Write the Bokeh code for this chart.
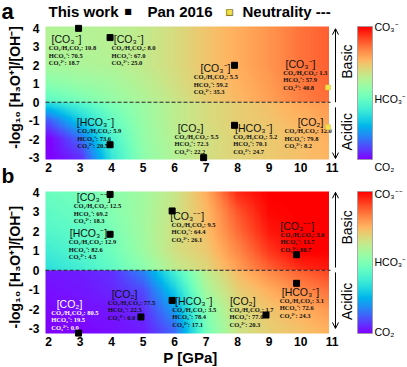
import numpy as np
from bokeh.plotting import figure
from bokeh.layouts import column
from bokeh.models import ColumnDataSource, LinearColorMapper, Label, Arrow, OpenHead
from bokeh.core.properties import value
from bokeh.embed import file_html
from bokeh.resources import INLINE

# ---------------- data ----------------
# panel a : this work
a_P = [2.95, 3.95, 7.9, 3.95, 6.92, 7.9]
a_pH = [4.0, 3.5, 2.0, -2.3, -3.0, -1.25]
a_species = ["CO3", "CO3", "CO3", "HCO3", "CO2", "HCO3"]
a_co2 = [10.8, 8.0, 5.5, 5.9, 5.5, 5.2]
a_hco3 = [70.5, 67.0, 59.2, 73.6, 72.3, 70.1]
a_co3 = [18.7, 25.0, 35.3, 20.5, 22.2, 24.7]
# panel a : Pan 2016
pan_P = [10.87, 10.87]
pan_pH = [0.8, -1.35]
pan_species = ["CO3", "CO2"]
pan_co2 = [1.3, 12.0]
pan_hco3 = [57.9, 79.8]
pan_co3 = [40.8, 8.2]
# panel b : this work
b_P = [3.95, 3.95, 5.92, 9.87, 9.87, 8.9, 5.92, 4.93, 2.95]
b_pH = [3.9, 1.85, 3.05, 0.8, -0.67, -2.3, -1.55, -2.4, -3.23]
b_species = ["CO3", "HCO3", "CO3", "CO3", "HCO3", "CO2", "HCO3", "CO2", "CO2"]
b_co2 = [12.5, 12.9, 9.5, 5.6, 3.1, 1.7, 3.5, 77.5, 80.5]
b_hco3 = [69.2, 82.6, 64.4, 13.7, 72.6, 77.0, 78.4, 22.5, 19.5]
b_co3 = [18.3, 4.5, 26.1, 80.7, 24.3, 20.3, 17.1, 0.0, 0.0]
neutral_pH = 0.0

x_ticks = [2, 3, 4, 5, 6, 7, 8, 9, 10, 11]
y_ticks = [-3, -2, -1, 0, 1, 2, 3, 4]

# background field (0 = CO2, 0.5 = HCO3-, 1 = CO3--) read on a coarse grid
field_x = [2, 3, 4, 5, 6, 7, 8, 9, 10, 11]
up_y = [4, 3, 2, 1, 0]
lo_y = [0, -1, -2, -3]
a_up = [
    [0.60, 0.60, 0.61, 0.63, 0.67, 0.72, 0.76, 0.80, 0.85, 0.88],
    [0.60, 0.60, 0.61, 0.63, 0.67, 0.72, 0.76, 0.80, 0.85, 0.88],
    [0.58, 0.59, 0.60, 0.63, 0.67, 0.72, 0.76, 0.80, 0.85, 0.88],
    [0.52, 0.55, 0.57, 0.61, 0.66, 0.71, 0.75, 0.79, 0.84, 0.87],
    [0.43, 0.48, 0.54, 0.59, 0.64, 0.70, 0.74, 0.78, 0.83, 0.86],
]
a_lo = [
    [0.34, 0.42, 0.50, 0.56, 0.62, 0.67, 0.70, 0.73, 0.77, 0.80],
    [0.12, 0.30, 0.45, 0.55, 0.62, 0.67, 0.70, 0.72, 0.75, 0.78],
    [0.00, 0.14, 0.40, 0.54, 0.61, 0.66, 0.69, 0.71, 0.73, 0.76],
    [0.00, 0.06, 0.36, 0.53, 0.60, 0.66, 0.69, 0.71, 0.73, 0.75],
]
b_up = [
    [0.46, 0.48, 0.52, 0.57, 0.64, 0.76, 0.95, 1.00, 1.00, 1.00],
    [0.44, 0.46, 0.51, 0.57, 0.65, 0.74, 0.89, 0.99, 1.00, 1.00],
    [0.42, 0.44, 0.49, 0.57, 0.66, 0.73, 0.86, 0.97, 1.00, 1.00],
    [0.38, 0.42, 0.47, 0.56, 0.66, 0.71, 0.82, 0.93, 1.00, 1.00],
    [0.34, 0.38, 0.44, 0.52, 0.62, 0.68, 0.78, 0.87, 0.94, 0.97],
]
b_lo = [
    [0.03, 0.04, 0.06, 0.18, 0.40, 0.62, 0.74, 0.82, 0.88, 0.92],
    [0.02, 0.03, 0.05, 0.10, 0.30, 0.58, 0.70, 0.76, 0.82, 0.86],
    [0.01, 0.02, 0.03, 0.06, 0.22, 0.52, 0.67, 0.72, 0.76, 0.80],
    [0.00, 0.01, 0.02, 0.04, 0.14, 0.48, 0.65, 0.70, 0.73, 0.76],
]

# ---------------- layout (text positions, data coordinates) ----------------
a_lab_x = [2.567, 4.544, 7.297, 3.487, 6.503, 8.513]
a_line_x = [2.005, 3.995, 6.608, 2.906, 5.995, 7.859]
a_lab_y = [3.407, 3.407, 1.842, -1.081, -1.385, -1.385]
pan_lab_x = [9.995, 10.313]
pan_line_x = [9.446, 9.487]
pan_lab_y = [2.081, -1.081]
b_lab_x = [3.433, 3.265, 6.398, 9.89, 9.995, 8.163, 6.608, 4.408, 2.662]
b_line_x = [2.798, 2.640, 5.9, 9.36, 9.338, 7.741, 5.922, 3.878, 2.081]
b_lab_y = [3.757, 1.906, 2.816, 2.302, -1.091, -1.554, -1.554, -1.21, -1.724]
b_txt_col = ["#111111"] * 8 + ["white"]

W = 407
LEFT = 45            # px left of the plotting region
X0 = 1.9             # data x at the region's left edge
PPX = 31.5           # px per GPa
XA = X0 - LEFT / PPX
XB = X0 + (W - LEFT) / PPX
IMG_X1 = 10.9
FONT = "Liberation Sans"


def rainbow(n=256):
    out = []
    for i in range(n):
        t = i / (n - 1)
        r = min(1.0, abs(2 * t - 0.5))
        g = max(0.0, np.sin(np.pi * t))
        b = max(0.0, np.cos(np.pi * t / 2))
        out.append("#%02x%02x%02x" % (int(round(r * 255)), int(round(g * 255)), int(round(b * 255))))
    return out


mapper = LinearColorMapper(palette=rainbow(), low=0, high=1)


def upsample(grid, ys, y0, y1, nx=240, ny=120):
    g = np.array(grid, dtype=float)
    ys = np.array(ys, dtype=float)
    order = np.argsort(ys)
    g = g[order]
    ys = ys[order]
    px = np.linspace(X0, IMG_X1, nx)
    py = np.linspace(y0, y1, ny)
    tmp = np.array([np.interp(px, field_x, row) for row in g])
    out = np.array([np.interp(py, ys, tmp[:, j]) for j in range(nx)]).T
    return out


def lbl(p, x, y, text, size, bold=False, align="left", baseline="middle", color="black",
        font=FONT, angle=0.0):
    p.add_layout(Label(x=x, y=y, text=text, text_font=font, text_font_size=size,
                       text_font_style="bold" if bold else "normal", text_align=align,
                       text_baseline=baseline, text_color=color, angle=angle))


def make_panel(height, top, bottom, y0, y1, up, lo, tick_gap):
    fh = height - top - bottom
    ppy = fh / (y1 - y0)
    YA = y0 - bottom / ppy
    YB = y1 + top / ppy
    p = figure(width=W, height=height, x_range=(XA, XB), y_range=(YA, YB),
               output_backend="svg", toolbar_location=None,
               x_axis_location=None, y_axis_location=None,
               min_border_left=0, min_border_right=0, min_border_top=0,
               min_border_bottom=0)
    p.outline_line_color = None
    p.grid.visible = False
    p.background_fill_color = "white"
    p.border_fill_color = "white"

    # background field
    p.image(image=[upsample(up, up_y, 0, y1)], x=X0, y=0, dw=IMG_X1 - X0, dh=y1,
            color_mapper=mapper)
    p.image(image=[upsample(lo, lo_y, y0, 0)], x=X0, y=y0, dw=IMG_X1 - X0, dh=-y0,
            color_mapper=mapper)
    # neutrality line
    p.segment(x0=[X0], y0=[neutral_pH], x1=[10.95], y1=[neutral_pH],
              line_color="#222222", line_dash="4 2", line_width=1)

    # tick labels
    p.text(x=x_ticks, y=[y0 - tick_gap / ppy] * len(x_ticks), text=[str(t) for t in x_ticks],
           text_font=value(FONT), text_font_style="bold", text_font_size="12px",
           text_align="center", text_baseline="top", text_color="black")
    p.text(x=[X0 - 6 / PPX] * len(y_ticks), y=y_ticks, text=[str(t) for t in y_ticks],
           text_font=value(FONT), text_font_style="bold", text_font_size="12px",
           text_align="right", text_baseline="middle", text_color="black")

    # colour bar
    cb_x0, cb_x1 = 11.805, 12.281
    p.image(image=[np.linspace(0, 1, 256).reshape(256, 1)], x=cb_x0, y=y0,
            dw=cb_x1 - cb_x0, dh=y1 - y0, color_mapper=mapper)
    p.quad(left=[cb_x0], right=[cb_x1], bottom=[y0], top=[y1], fill_color=None,
           line_color="#999999", line_width=0.8)
    return p, ppy


def add_blocks(p, ppy, lab_x, line_x, lab_y, species, co2, hco3, co3, co3_sym, colors=None):
    names = {"CO3": "[CO\u2083" + co3_sym + "]", "HCO3": "[HCO\u2083\u207b]", "CO2": "[CO\u2082]"}
    n = len(lab_x)
    if colors is None:
        colors = ["#111111"] * n
    src_l = ColumnDataSource(dict(x=lab_x, y=lab_y, text=[names[s] for s in species], c=colors))
    p.text(x="x", y="y", text="text", text_color="c", source=src_l,
           text_font=value(FONT), text_font_size="10.5px",
           text_align="center", text_baseline="middle")
    xs, ys, ts, cs = [], [], [], []
    for i in range(n):
        lines = ["CO\u2082/H\u2082CO\u2083: %.1f" % co2[i],
                 "HCO\u2083\u207b: %.1f" % hco3[i],
                 "CO\u2083\u00b2\u207b: %.1f" % co3[i]]
        for k, t in enumerate(lines):
            xs.append(line_x[i])
            ys.append(lab_y[i] - (8.5 + 7.5 * k) / ppy)
            ts.append(t)
            cs.append(colors[i])
    src = ColumnDataSource(dict(x=xs, y=ys, text=ts, c=cs))
    p.text(x="x", y="y", text="text", text_color="c", source=src,
           text_font=value("Liberation Serif"), text_font_style="bold",
           text_font_size="6.5px", text_align="left", text_baseline="middle")


def side(p, up_arrow, lo_arrow, basic_y, acidic_y, cb_labels):
    ax_x = 11.106
    for a in (up_arrow, lo_arrow):
        p.add_layout(Arrow(end=OpenHead(size=6, line_width=1, line_color="black"),
                           x_start=ax_x, y_start=a[0], x_end=ax_x, y_end=a[1],
                           line_width=1, line_color="black"))
    lbl(p, 11.456, basic_y, "Basic", "14px", align="center", angle=np.pi / 2)
    lbl(p, 11.456, acidic_y, "Acidic", "14px", align="center", angle=np.pi / 2)
    for (t, y) in cb_labels:
        lbl(p, 12.344, y, t, "10.5px")


YLAB = "-log\u2081\u2080 [H\u2083O\u207a]/[OH\u207b]"

# ---------------- panel a ----------------
pa, ppy_a = make_panel(186, 26, 27, -3.1, 4.1, a_up, a_lo, 3)
add_blocks(pa, ppy_a, a_lab_x, a_line_x, a_lab_y, a_species, a_co2, a_hco3, a_co3, "\u207b")
add_blocks(pa, ppy_a, pan_lab_x, pan_line_x, pan_lab_y, pan_species, pan_co2, pan_hco3,
           pan_co3, "\u207b")
pa.scatter(x=a_P, y=a_pH, marker="square", size=6, fill_color="black", line_color="black")
pa.scatter(x=pan_P, y=pan_pH, marker="square", size=5, fill_color="#f2e24c",
           line_color="#d8c840", line_width=0.5)
side(pa, (0.0, 3.98), (-0.28, -3.05), 2.2, -1.6,
     [("CO\u2083\u207b", 4.05), ("HCO\u2083\u207b", 0.2), ("CO\u2082", -3.48)])
lbl(pa, 0.916, 0.797, YLAB, "14px", bold=True, align="center", angle=np.pi / 2)
lbl(pa, XA + 1.0 / PPX, 4.912, "a", "22px", bold=True)
lbl(pa, XA + 1.0 / PPX, -3.966, "b", "21px", bold=True)
ty = 4.912
lbl(pa, 1.995, ty, "This work", "15px", bold=True)
lbl(pa, 4.519, ty, "\u25a0", "8px", align="center", font="DejaVu Sans")
lbl(pa, 5.138, ty, "Pan 2016", "15px", bold=True)
lbl(pa, 7.741, ty, "\u25a0", "9px", align="center", font="DejaVu Sans", color="#8a7d2a")
lbl(pa, 7.741, ty, "\u25a0", "6.5px", align="center", font="DejaVu Sans", color="#efe04c")
lbl(pa, 8.154, ty, "Neutrality ---", "15px", bold=True)

# ---------------- panel b ----------------
pb, ppy_b = make_panel(181, 5, 34, -3.25, 4.05, b_up, b_lo, 3)
add_blocks(pb, ppy_b, b_lab_x, b_line_x, b_lab_y, b_species, b_co2, b_hco3, b_co3,
           "\u207b\u207b", colors=b_txt_col)
pb.scatter(x=b_P, y=b_pH, marker="square", size=6, fill_color="black", line_color="black")
side(pb, (0.14, 4.01), (-0.11, -2.99), 2.2, -1.6,
     [("CO\u2083\u207b\u207b", 3.93), ("HCO\u2083\u207b", 0.415), ("CO\u2082", -3.18)])
lbl(pb, 0.916, 0.158, YLAB, "14px", bold=True, align="center", angle=np.pi / 2)
lbl(pb, 6.5, -4.484, "P [GPa]", "15px", bold=True, align="center")

layout = column(pa, pb)
open("out.html", "w").write(file_html(layout, INLINE))
